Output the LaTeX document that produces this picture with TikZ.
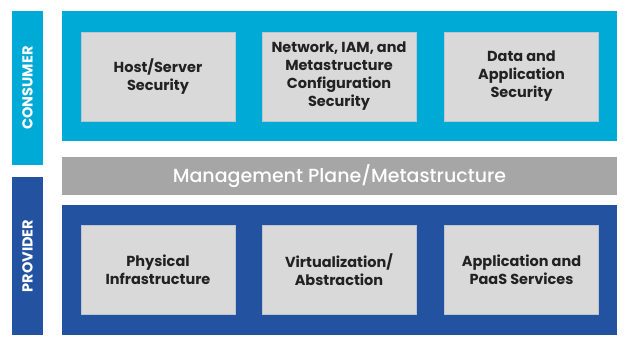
\documentclass[tikz,border=0pt]{standalone}
\usepackage{fontspec}
\setmainfont{Poppins}
\newfontfamily\planefont{Poppins Medium}
\usepackage{tikz}
\usetikzlibrary{positioning}
\definecolor{lcyan}{HTML}{00AAD6}
\definecolor{lnavy}{HTML}{2352A1}
\definecolor{lgrey}{HTML}{A6A6A6}
\definecolor{lcell}{HTML}{D9D9D9}
\definecolor{ltext}{HTML}{222222}
\tikzset{
  lside/.style={minimum height=31pt, inner sep=0pt, rotate=90,
                text=white, font=\fontsize{14.5}{16}\selectfont\bfseries},
  llayer/.style={minimum width=555pt, minimum height=130pt, inner sep=0pt},
  lmgmt/.style={fill=lgrey, minimum width=555pt, minimum height=38pt,
                inner sep=0pt, text=white, font=\fontsize{19}{22}\planefont},
  lbox/.style={fill=lcell, draw=lcell!85!lnavy, line width=0.4pt,
               minimum width=154pt, minimum height=89pt, inner sep=2pt,
               align=center, text=ltext,
               font=\fontsize{14.5}{18}\selectfont\bfseries},
}
\begin{document}
\begin{tikzpicture}[x=1pt,y=-1pt]
  \useasboundingbox (0,0) rectangle (631,345);

  % side labels
  \node[lside, fill=lcyan, minimum width=154pt] (consumer) at (27.5,88) {CONSUMER};
  \node[lside, fill=lnavy, minimum width=158pt] (provider) at (27.5,256) {PROVIDER};

  % the two layers and the plane between them
  \node[llayer, fill=lcyan] (cons) at (339.5,76) {};
  \node[lmgmt] (mgmt) at (339.5,176) {Management Plane/Metastructure};
  \node[llayer, fill=lnavy] (prov) at (339.5,270) {};

  % consumer cells
  \foreach \cx/\txt [count=\i] in {%
      158/{Host/Server\\Security},
      339/{Network, IAM, and\\Metastructure\\Configuration\\Security},
      521.5/{Data and\\Application\\Security}}
    \node[lbox] (c\i) at (\cx,76.5) {\txt};

  % provider cells
  \foreach \cx/\txt [count=\i] in {%
      158/{Physical\\Infrastructure},
      339/{Virtualization/\\Abstraction},
      521.5/{Application and\\PaaS Services}}
    \node[lbox] (p\i) at (\cx,269.5) {\txt};

\end{tikzpicture}
\end{document}
